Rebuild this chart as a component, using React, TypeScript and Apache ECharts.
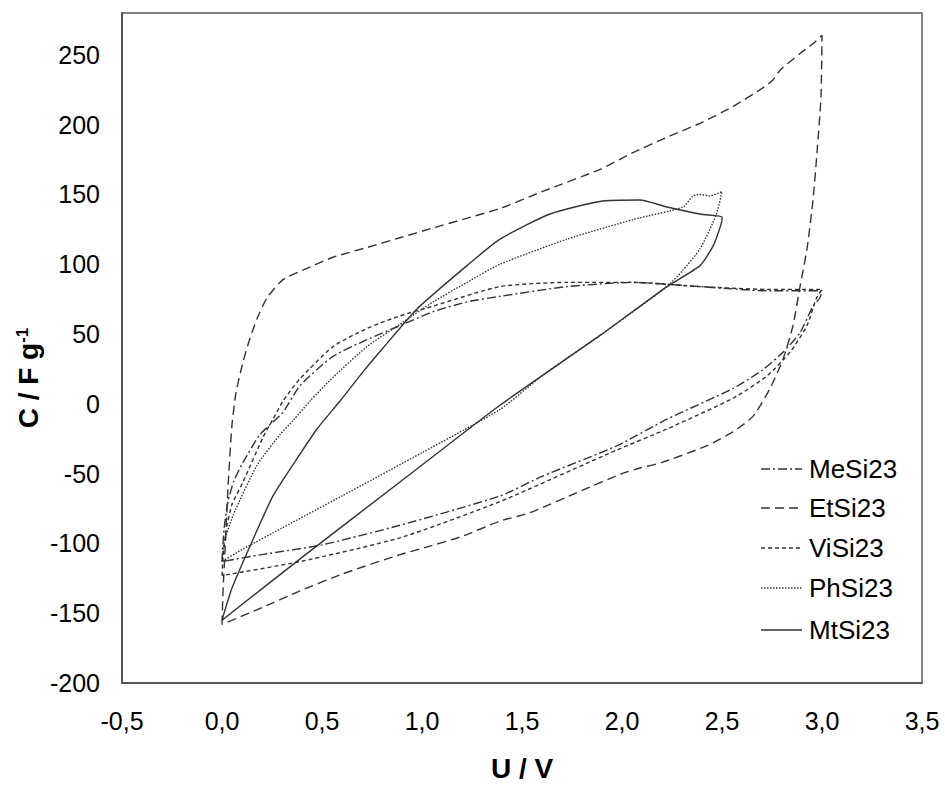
import React, { useEffect, useRef } from "react";
import * as echarts from "echarts";

// Voltage (V) / capacitance (F g-1) loops
const MeSi23: [number, number][] = [
  [0, -113], [0.01, -90], [0.03, -70], [0.06, -55], [0.105, -42], [0.19, -22], [0.305, -6], [0.39, 13],
  [0.555, 34], [0.725, 46], [0.89, 56], [1.055, 66], [1.225, 73], [1.39, 77], [1.725, 84], [2.055, 87],
  [2.39, 84], [2.725, 81], [3.0, 81], [2.99, 76], [2.955, 70], [2.89, 51], [2.805, 37], [2.7, 24],
  [2.555, 11], [2.225, -11], [1.975, -30], [1.6, -52], [1.39, -66], [0.89, -87], [0.5, -101], [0.2, -108], [0, -113],
];
const EtSi23: [number, number][] = [
  [0, -158], [0.005, -135], [0.015, -105], [0.03, -60], [0.05, -15], [0.07, 8], [0.105, 30], [0.14, 47],
  [0.175, 61], [0.225, 76], [0.305, 89], [0.425, 97], [0.555, 105], [0.725, 112], [0.89, 119], [1.055, 126],
  [1.39, 140], [1.6, 152], [1.89, 168], [2.055, 180], [2.225, 191], [2.39, 201], [2.555, 213], [2.7, 226],
  [2.755, 232], [2.79, 239], [2.89, 251], [2.955, 258], [3.0, 264], [2.995, 220], [2.975, 180], [2.955, 146],
  [2.925, 111], [2.89, 84], [2.855, 56], [2.805, 32], [2.74, 11], [2.655, -9], [2.555, -20], [2.425, -30],
  [2.2, -42], [2.09, -46], [2.0, -50], [1.8, -62], [1.54, -78], [1.39, -84], [1.2, -95], [0.99, -104],
  [0.89, -108], [0.6, -122], [0.39, -134], [0.2, -146], [0, -158],
];
const ViSi23: [number, number][] = [
  [0, -123], [0.005, -110], [0.02, -91], [0.05, -72], [0.105, -56], [0.205, -24], [0.255, -11], [0.305, 2],
  [0.39, 18], [0.555, 41], [0.725, 54], [0.89, 63], [1.055, 70], [1.39, 84], [1.725, 87], [2.055, 87],
  [2.39, 84], [2.725, 82], [3.0, 82], [2.97, 75], [2.925, 56], [2.84, 37], [2.725, 20], [2.555, 4],
  [2.225, -18], [1.975, -33], [1.39, -70], [0.89, -96], [0.39, -113], [0, -123],
];
const PhSi23: [number, number][] = [
  [0, -113], [0.01, -100], [0.055, -80], [0.175, -44], [0.29, -22], [0.355, -12], [0.44, 2], [0.555, 19],
  [0.725, 41], [0.89, 57], [1.055, 73], [1.225, 87], [1.39, 100], [1.725, 118], [2.055, 132], [2.305, 141],
  [2.355, 149], [2.39, 150], [2.44, 149], [2.5, 152], [2.47, 135], [2.39, 111], [2.3, 95], [2.225, 84],
  [1.89, 49], [1.6, 20], [1.39, -4], [1.0, -35], [0.6, -66], [0.3, -89], [0.105, -104], [0, -113],
];
const MtSi23: [number, number][] = [
  [0, -155], [0.05, -132], [0.14, -102], [0.255, -66], [0.39, -36], [0.475, -18], [0.59, 2], [0.7, 22],
  [0.805, 40], [0.975, 68], [1.225, 99], [1.39, 118], [1.64, 136], [1.89, 145], [2.09, 146], [2.225, 141],
  [2.39, 136], [2.5, 134], [2.5, 132], [2.48, 122], [2.455, 113], [2.39, 99], [2.225, 84], [1.89, 49],
  [1.39, -1], [0.89, -56], [0.4, -110], [0, -155],
];

const seriesNames = ["MeSi23", "EtSi23", "ViSi23", "PhSi23", "MtSi23"];
const seriesData = [MeSi23, EtSi23, ViSi23, PhSi23, MtSi23];
const dashes: (number[] | "solid")[] = [[9, 3, 2, 3], [9, 5], [4, 3], [1.5, 1.5], "solid"];

const X_MIN = -0.5, X_MAX = 3.5, X_STEP = 0.5;
const Y_MIN = -200, Y_MAX = 280, Y_STEP = 50;

const LINE = "#333";
const FONT = "'Liberation Sans', Arial, sans-serif";

export default function App() {
  const ref = useRef<HTMLDivElement>(null);
  useEffect(() => {
    const chart = echarts.init(ref.current!, null, { renderer: "svg" });
    const legendY = [469, 508, 548, 588, 630];
    chart.setOption({
      animation: false,
      backgroundColor: "#fff",
      grid: { left: 122, top: 13, right: 23, bottom: 102, show: true, borderColor: "#5a5a5a", borderWidth: 1.5 },
      xAxis: {
        type: "value", min: X_MIN, max: X_MAX, interval: X_STEP,
        axisLine: { show: true, onZero: false, lineStyle: { color: "#555", width: 2 } },
        axisTick: { show: false }, splitLine: { show: false },
        axisLabel: { fontSize: 25, fontFamily: FONT, color: "#000", margin: 25,
          formatter: (v: number) => v.toFixed(1).replace(".", ",") },
        name: "U / V", nameLocation: "middle", nameGap: 71,
        nameTextStyle: { fontSize: 28, fontWeight: "bold", fontFamily: FONT, color: "#000" },
      },
      yAxis: {
        type: "value", min: Y_MIN, max: Y_MAX, interval: Y_STEP,
        axisLine: { show: true, onZero: false, lineStyle: { color: "#555", width: 2 } },
        axisTick: { show: false }, splitLine: { show: false },
        axisLabel: { fontSize: 25, fontFamily: FONT, color: "#000", margin: 22, showMaxLabel: false,
          formatter: (v: number) => (v === Y_MAX ? "" : String(v)) },
      },
      series: seriesData.map((d, i) => ({
        name: seriesNames[i], type: "line", data: d, symbol: "none", showSymbol: false, smooth: 0.2,
        lineStyle: { color: LINE, width: 1.4, type: dashes[i] },
      })),
      graphic: [
        {
          type: "text", x: 28, y: 378, rotation: Math.PI / 2,
          style: {
            text: "C / F g{sup|-1}", fontSize: 28, fontWeight: "bold", fontFamily: FONT, fill: "#000",
            align: "center", verticalAlign: "middle",
            rich: { sup: { fontSize: 17, fontWeight: "bold", fontFamily: FONT, fill: "#000", verticalAlign: "top", padding: [0, 0, 12, 0] } },
          },
        },
        ...seriesNames.map((n, i) => ({
          type: "group",
          children: [
            { type: "line", shape: { x1: 761, y1: legendY[i], x2: 802, y2: legendY[i] },
              style: { stroke: LINE, lineWidth: 1.4, lineDash: dashes[i] === "solid" ? null : dashes[i] } },
            { type: "text", x: 809, y: legendY[i],
              style: { text: n, fontSize: 26, fontFamily: FONT, fill: "#000", align: "left", verticalAlign: "middle" } },
          ],
        })),
      ],
    });
    return () => chart.dispose();
  }, []);
  return <div ref={ref} style={{ position: "fixed", left: 0, top: 0, width: 945, height: 787, background: "#fff" }} />;
}
